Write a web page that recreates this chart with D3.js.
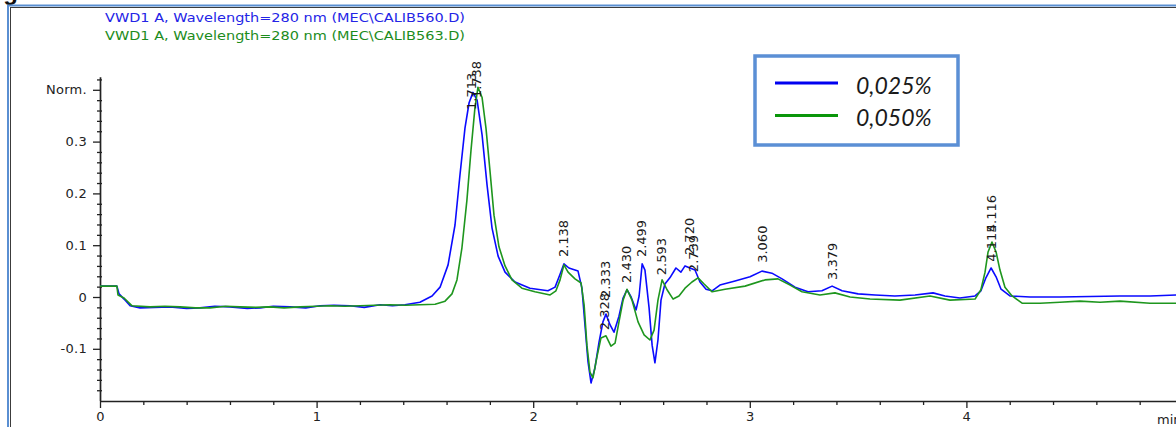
<!DOCTYPE html>
<html>
<head>
<meta charset="utf-8">
<script src="https://cdn.jsdelivr.net/npm/d3@7"></script>
<style>
  html, body { margin: 0; padding: 0; background: #fff; overflow: hidden; }
  svg { display: block; }
</style>
</head>
<body>
<svg id="chart" width="1176" height="427"></svg>
<script>
// ---- data: [retention time (min), normalised absorbance] ----
const run560 = [
  [0.000, 0.021], [0.078, 0.021], [0.088, 0.006], [0.111, -0.004], [0.139, -0.017],
  [0.185, -0.021], [0.250, -0.020], [0.323, -0.019], [0.400, -0.022], [0.462, -0.021],
  [0.530, -0.018], [0.600, -0.019], [0.680, -0.022], [0.739, -0.021], [0.800, -0.018],
  [0.877, -0.019], [0.950, -0.021], [1.016, -0.017], [1.080, -0.016], [1.154, -0.017],
  [1.220, -0.020], [1.293, -0.015], [1.350, -0.017], [1.408, -0.015], [1.477, -0.010],
  [1.533, 0.002], [1.570, 0.019], [1.607, 0.062], [1.639, 0.139], [1.662, 0.236],
  [1.685, 0.326], [1.704, 0.375], [1.722, 0.395], [1.741, 0.380], [1.764, 0.313],
  [1.787, 0.216], [1.810, 0.133], [1.838, 0.079], [1.870, 0.048], [1.916, 0.029],
  [1.985, 0.017], [2.068, 0.012], [2.101, 0.019], [2.124, 0.044], [2.142, 0.064],
  [2.165, 0.056], [2.207, 0.050], [2.225, 0.017], [2.239, -0.054], [2.253, -0.125],
  [2.267, -0.166], [2.285, -0.137], [2.304, -0.087], [2.322, -0.048], [2.336, -0.033],
  [2.355, -0.054], [2.373, -0.068], [2.396, -0.037], [2.415, -0.002], [2.433, 0.014],
  [2.452, 0.000], [2.475, -0.025], [2.489, 0.002], [2.503, 0.064], [2.516, 0.052],
  [2.535, -0.021], [2.549, -0.093], [2.562, -0.127], [2.576, -0.083], [2.590, -0.006],
  [2.608, 0.025], [2.631, 0.037], [2.659, 0.056], [2.682, 0.048], [2.701, 0.060],
  [2.724, 0.056], [2.747, 0.052], [2.770, 0.029], [2.798, 0.015], [2.826, 0.012],
  [2.862, 0.023], [2.932, 0.031], [3.001, 0.039], [3.056, 0.050], [3.102, 0.046],
  [3.149, 0.035], [3.209, 0.019], [3.269, 0.010], [3.333, 0.012], [3.380, 0.021],
  [3.426, 0.012], [3.500, 0.006], [3.578, 0.004], [3.670, 0.002], [3.763, 0.004],
  [3.846, 0.008], [3.901, 0.002], [3.970, -0.002], [4.040, 0.002], [4.067, 0.012],
  [4.090, 0.037], [4.114, 0.056], [4.137, 0.039], [4.160, 0.015], [4.201, 0.002],
  [4.294, 0.000], [4.432, 0.000], [4.571, 0.001], [4.709, 0.002], [4.848, 0.002],
  [4.968, 0.004]
];

const run563 = [
  [0.000, 0.021], [0.078, 0.021], [0.083, 0.004], [0.111, -0.002], [0.148, -0.017],
  [0.231, -0.019], [0.300, -0.018], [0.369, -0.019], [0.440, -0.021], [0.508, -0.021],
  [0.580, -0.018], [0.646, -0.019], [0.720, -0.020], [0.785, -0.019], [0.850, -0.021],
  [0.923, -0.019], [1.000, -0.018], [1.062, -0.017], [1.130, -0.018], [1.200, -0.017],
  [1.270, -0.016], [1.339, -0.015], [1.410, -0.016], [1.477, -0.015], [1.547, -0.014],
  [1.593, -0.008], [1.625, 0.006], [1.648, 0.033], [1.671, 0.095], [1.694, 0.187],
  [1.713, 0.284], [1.731, 0.365], [1.745, 0.405], [1.764, 0.385], [1.782, 0.326],
  [1.801, 0.241], [1.819, 0.158], [1.842, 0.097], [1.870, 0.060], [1.902, 0.033],
  [1.948, 0.017], [2.008, 0.010], [2.078, 0.004], [2.105, 0.012], [2.124, 0.033],
  [2.142, 0.062], [2.161, 0.048], [2.193, 0.035], [2.221, 0.027], [2.235, -0.015],
  [2.248, -0.093], [2.262, -0.145], [2.276, -0.156], [2.295, -0.114], [2.313, -0.079],
  [2.336, -0.075], [2.359, -0.095], [2.378, -0.089], [2.396, -0.048], [2.415, -0.006],
  [2.433, 0.015], [2.456, -0.006], [2.484, -0.048], [2.512, -0.073], [2.539, -0.083],
  [2.558, -0.064], [2.576, -0.006], [2.595, 0.033], [2.618, 0.014], [2.646, -0.004],
  [2.673, 0.002], [2.701, 0.017], [2.733, 0.029], [2.761, 0.037], [2.789, 0.025],
  [2.826, 0.010], [2.886, 0.015], [2.978, 0.021], [3.070, 0.033], [3.130, 0.035],
  [3.186, 0.023], [3.241, 0.010], [3.324, 0.004], [3.393, 0.008], [3.463, 0.000],
  [3.555, -0.004], [3.693, -0.006], [3.832, 0.002], [3.924, -0.006], [4.040, -0.004],
  [4.067, 0.014], [4.086, 0.048], [4.100, 0.087], [4.118, 0.106], [4.137, 0.087],
  [4.155, 0.052], [4.178, 0.019], [4.211, 0.002], [4.257, -0.012], [4.340, -0.012],
  [4.432, -0.010], [4.524, -0.008], [4.617, -0.010], [4.709, -0.008], [4.848, -0.012],
  [4.968, -0.012]
];

// integrated peaks: retention time, printed label, level where the label starts
const peakTimes  = [1.713, 1.738, 2.138, 2.328, 2.333, 2.430, 2.499, 2.593, 2.720, 2.739, 3.060, 3.379, 4.115, 4.116];
const peakTexts  = ["1.713", "1.738", "2.138", "2.328", "2.333", "2.430", "2.499", "2.593", "2.720", "2.739", "3.060", "3.379", "4.115", "4.116"];
const peakLevels = [0.361, 0.384, 0.077, -0.064, -0.002, 0.027, 0.077, 0.042, 0.081, 0.048, 0.066, 0.033, 0.068, 0.125];

const timeTicks = [0, 1, 2, 3, 4];
const timeTickLabels = ["0", "1", "2", "3", "4"];
const normTicks = [-0.1, 0, 0.1, 0.2, 0.3, 0.4];
const normTickLabels = ["-0.1", "0", "0.1", "0.2", "0.3", "Norm."];

const traceTitles = [
  "VWD1 A, Wavelength=280 nm (MEC\\CALIB560.D)",
  "VWD1 A, Wavelength=280 nm (MEC\\CALIB563.D)"
];
const legendLabels = ["0,025%", "0,050%"];
const traceColors = ["#0a0aff", "#1e961e"];
const titleColors = ["#2424e6", "#1c8c1c"];

// ---- drawing ----
const svg = d3.select("#chart");

const x = d3.scaleLinear().domain([0, 5]).range([100, 1183]);
const y = d3.scaleLinear().domain([-0.2, 0.425]).range([400.6, 76.85]);

// caption sitting above the frame (only its descender shows)
svg.append("text")
  .attr("x", -18).attr("y", 0)
  .attr("font-family", "Liberation Sans, Arial, sans-serif")
  .attr("font-weight", "bold").attr("font-size", 24)
  .attr("fill", "#111")
  .text("Figure");

// window frame: light blue outer edge with a dark inner rule
svg.append("rect")
  .attr("x", 8).attr("y", 5.5).attr("width", 2000).attr("height", 1000)
  .attr("fill", "none").attr("stroke", "#5a8fd2").attr("stroke-width", 2);
svg.append("rect")
  .attr("x", 10.5).attr("y", 7.5).attr("width", 2000).attr("height", 1000)
  .attr("fill", "none").attr("stroke", "#3c3c3c").attr("stroke-width", 1);

const axisFont = "DejaVu Sans, Verdana, sans-serif";
const axisColor = "#222";

// signal titles
traceTitles.forEach((t, i) => {
  svg.append("text")
    .attr("x", 105).attr("y", 21.5 + i * 18)
    .attr("font-family", axisFont)
    .attr("font-size", 12.5)
    .attr("textLength", 360).attr("lengthAdjust", "spacingAndGlyphs")
    .attr("fill", titleColors[i])
    .text(t);
});

// minor ticks
const minorX = d3.range(0, 5.001, 0.2).filter(v => Math.abs(v - Math.round(v)) > 1e-6);
const minorY = d3.range(-0.18, 0.4201, 0.02).filter(v => Math.abs(v * 10 - Math.round(v * 10)) > 1e-6);

const gxMinor = svg.append("g").attr("transform", "translate(0,401)")
  .call(d3.axisBottom(x).tickValues(minorX).tickSize(4).tickFormat(""));
gxMinor.select(".domain").remove();

const gyMinor = svg.append("g").attr("transform", "translate(102,0)")
  .call(d3.axisLeft(y).tickValues(minorY).tickSize(5).tickFormat(""));
gyMinor.select(".domain").remove();

// major axes
const gx = svg.append("g").attr("transform", "translate(0,401)")
  .call(d3.axisBottom(x).tickValues(timeTicks).tickSize(7).tickSizeOuter(0)
    .tickPadding(4).tickFormat((d, i) => timeTickLabels[i]));

const gy = svg.append("g").attr("transform", "translate(100,0)")
  .call(d3.axisLeft(y).tickValues(normTicks).tickSize(7).tickSizeOuter(0)
    .tickPadding(6).tickFormat((d, i) => normTickLabels[i]));

[gx, gy, gxMinor, gyMinor].forEach(g => {
  g.selectAll("line").attr("stroke", axisColor).attr("stroke-width", 1.3);
  g.selectAll(".domain").attr("stroke", axisColor).attr("stroke-width", 1.7);
  g.selectAll("text")
    .attr("font-family", axisFont).attr("font-size", 13)
    .attr("letter-spacing", "0.3px").attr("fill", axisColor);
});

// time unit at the right end of the time axis
svg.append("text")
  .attr("x", 1157).attr("y", 424)
  .attr("font-family", axisFont).attr("font-size", 13)
  .attr("fill", axisColor)
  .text("min");

// chromatogram traces
const line = d3.line().x(d => x(d[0])).y(d => y(d[1]));
[run560, run563].forEach((series, i) => {
  svg.append("path")
    .datum(series)
    .attr("d", line)
    .attr("fill", "none")
    .attr("stroke", traceColors[i])
    .attr("stroke-width", 1.6)
    .attr("stroke-linejoin", "round");
});

// retention-time labels, written upward from each peak
peakTimes.forEach((t, i) => {
  const px = x(t), py = y(peakLevels[i]);
  svg.append("text")
    .attr("transform", `translate(${px},${py}) rotate(-90)`)
    .attr("dy", "0.36em")
    .attr("font-family", axisFont).attr("font-size", 13)
    .attr("fill", "#1a1a1a")
    .text(peakTexts[i]);
});

// legend
const lg = svg.append("g");
lg.append("rect")
  .attr("x", 755).attr("y", 56).attr("width", 203).attr("height", 89)
  .attr("fill", "#fff").attr("stroke", "#5b8fd5").attr("stroke-width", 3.5);
legendLabels.forEach((lab, i) => {
  const ly = 83 + i * 32.5;
  lg.append("line")
    .attr("x1", 775).attr("x2", 838).attr("y1", ly).attr("y2", ly)
    .attr("stroke", i === 0 ? "#0000f0" : "#0a960a").attr("stroke-width", 3);
  lg.append("text")
    .attr("x", 856).attr("y", ly + 10.5)
    .attr("font-family", "Lato, 'Open Sans', sans-serif")
    .attr("font-style", "italic").attr("font-size", 23)
    .attr("fill", "#1a1a1a")
    .text(lab);
});
</script>
</body>
</html>
